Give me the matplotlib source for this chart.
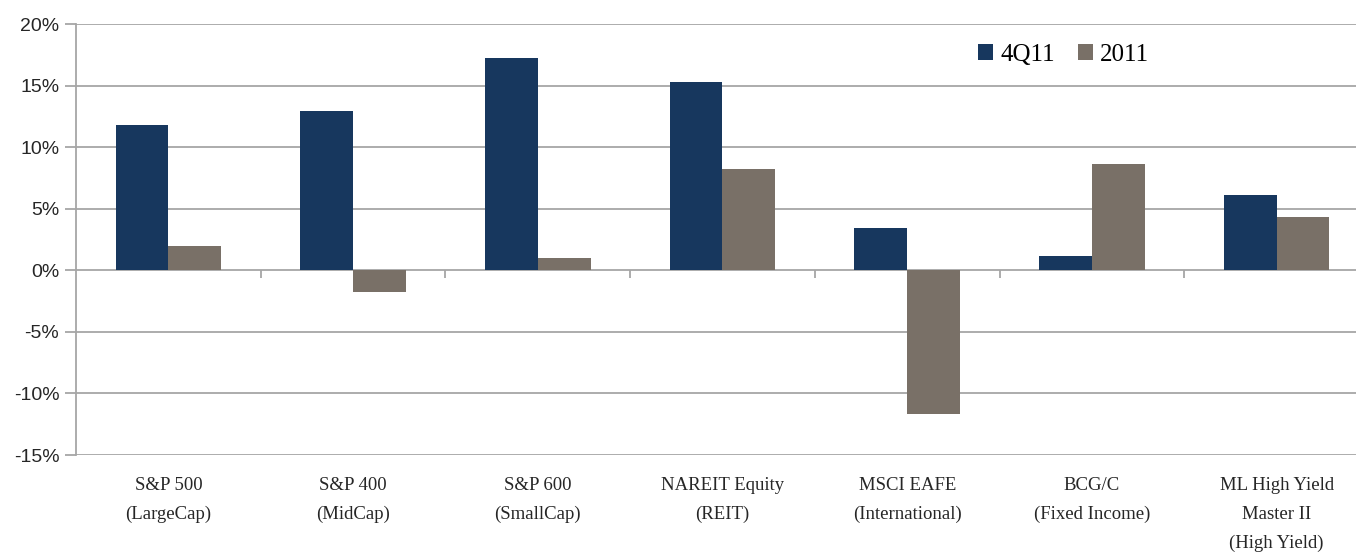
import numpy as np
import matplotlib
matplotlib.use("Agg")
import matplotlib.pyplot as plt
from matplotlib.ticker import FuncFormatter

categories = [
    "S&P 500\n(LargeCap)",
    "S&P 400\n(MidCap)",
    "S&P 600\n(SmallCap)",
    "NAREIT Equity\n(REIT)",
    "MSCI EAFE\n(International)",
    "BCG/C\n(Fixed Income)",
    "ML High Yield\nMaster II\n(High Yield)",
]
q4_11 = [11.8, 12.95, 17.2, 15.25, 3.4, 1.2, 6.15]
y2011 = [2.0, -1.75, 1.0, 8.2, -11.7, 8.65, 4.35]
series_names = ["4Q11", "2011"]

navy = "#17375e"
taupe = "#797067"
grid_col = "#a6a6a6"

fig = plt.figure(figsize=(13.56, 5.53), dpi=100)
# plot area runs a little past the right edge, like the source
ax = fig.add_axes([76 / 1356, 98 / 553, 1293 / 1356, 431 / 553])

x = np.arange(len(categories))
w = 1 / 3.5  # excel gap width 150%
ax.bar(x - w / 2, q4_11, w, color=navy, label=series_names[0], zorder=3)
ax.bar(x + w / 2, y2011, w, color=taupe, label=series_names[1], zorder=3)

ax.set_xlim(-0.5, len(categories) - 0.5)
ax.set_ylim(-15, 20)
ax.set_yticks(np.arange(-15, 21, 5))
ax.yaxis.set_major_formatter(FuncFormatter(lambda v, p: f"{v:.0f}%"))
ax.grid(axis="y", color=grid_col, linewidth=1.3, zorder=0)

for s in ["top", "right", "bottom"]:
    ax.spines[s].set_visible(False)
ax.spines["left"].set_color(grid_col)
ax.spines["left"].set_linewidth(1.3)

ax.tick_params(axis="y", length=8, width=1.3, color=grid_col, pad=4,
               labelsize=14, labelcolor="#262626")
for t in ax.get_yticklabels():
    t.set_fontfamily("Liberation Sans")

ax.set_xticks(x)
ax.set_xticklabels(categories, fontfamily="Liberation Serif", fontsize=13.5,
                   color="#262626", linespacing=1.9)
ax.tick_params(axis="x", length=0, pad=16)

# category tick marks on the zero line
bounds = np.arange(len(categories) + 1) - 0.5
ax.vlines(bounds[1:], 0, -0.65, color=grid_col, linewidth=1.3, zorder=2)

leg = ax.legend(loc="center left", bbox_to_anchor=(0.712, 1 - 55 / 553),
                bbox_transform=fig.transFigure, frameon=False, ncol=2,
                prop={"family": "Liberation Serif", "size": 18},
                handlelength=0.6, handleheight=0.6, handletextpad=0.3,
                columnspacing=0.9, borderpad=0)

fig.savefig("out.png", dpi=100)
